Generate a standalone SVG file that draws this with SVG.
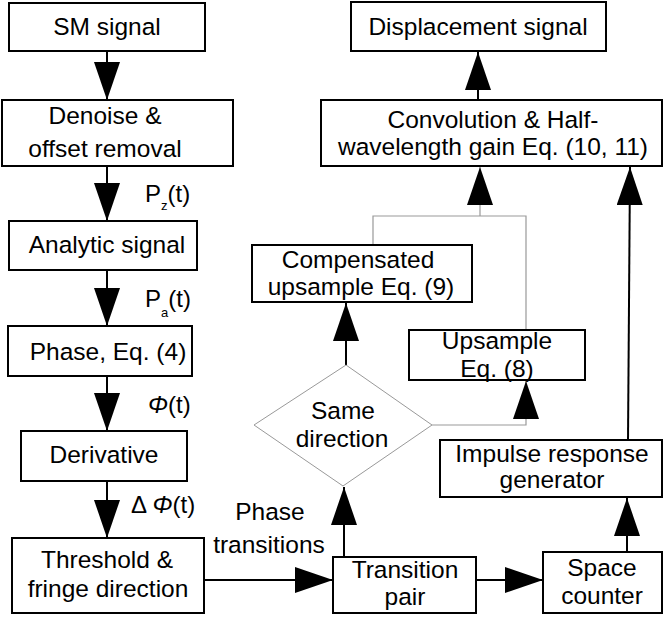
<svg xmlns="http://www.w3.org/2000/svg" width="663" height="620" viewBox="0 0 663 620">
<defs>
<style>
.box{fill:#fff;stroke:#000;stroke-width:2}
.dia{fill:#fff;stroke:#999;stroke-width:1}
.t{font-family:"Liberation Sans",Arial,sans-serif;font-size:24.5px;fill:#000;text-anchor:middle}
.lb{font-family:"Liberation Sans",Arial,sans-serif;font-size:24px;fill:#000}
.sub{font-size:13px}
.c{fill:none;stroke:#000;stroke-width:2}
.g{fill:none;stroke:#999;stroke-width:1.2}
</style>
<marker id="ah" viewBox="0 0 38 26" markerUnits="userSpaceOnUse" markerWidth="38" markerHeight="26" refX="38" refY="13" orient="auto">
<path d="M0,0 L38,13 L0,26 Z" fill="#000"/>
</marker>
</defs>
<rect width="663" height="620" fill="#fff"/>
<g id="connectors">
<line class="c" x1="107" y1="51" x2="107" y2="100" marker-end="url(#ah)"/>
<line class="c" x1="107" y1="166" x2="107" y2="221" marker-end="url(#ah)"/>
<line class="c" x1="107" y1="270" x2="107" y2="326" marker-end="url(#ah)"/>
<line class="c" x1="107" y1="376" x2="107" y2="431" marker-end="url(#ah)"/>
<line class="c" x1="107" y1="481" x2="107" y2="538" marker-end="url(#ah)"/>
<line class="c" x1="204" y1="580" x2="333" y2="580" marker-end="url(#ah)"/>
<line class="c" x1="476" y1="580" x2="543" y2="580" marker-end="url(#ah)"/>
<line class="c" x1="344" y1="557" x2="344" y2="487" marker-end="url(#ah)"/>
<line class="c" x1="346" y1="365" x2="346" y2="303" marker-end="url(#ah)"/>
<polyline class="g" points="432,425 526,425 526,381" marker-end="url(#ah)"/>
<polyline class="g" points="373,245 373,216 526,216 526,330"/>
<line class="g" x1="480" y1="216" x2="480" y2="167" marker-end="url(#ah)"/>
<line class="c" x1="627" y1="552" x2="627" y2="498" marker-end="url(#ah)"/>
<line class="c" x1="628" y1="440" x2="630" y2="167" marker-end="url(#ah)"/>
<line class="c" x1="478" y1="100" x2="478" y2="52" marker-end="url(#ah)"/>
</g>
<g id="labels">
<text class="lb" x="145" y="202">P<tspan class="sub" dy="8">z</tspan><tspan dy="-8">(t)</tspan></text>
<text class="lb" x="145" y="307">P<tspan class="sub" dy="10">a</tspan><tspan dy="-10">(t)</tspan></text>
<text class="lb" x="148" y="413"><tspan font-style="italic">Φ</tspan>(t)</text>
<text class="lb" x="131" y="513">Δ <tspan font-style="italic">Φ</tspan>(t)</text>
<text class="t" x="270" y="520">Phase</text>
<text class="t" x="269" y="553">transitions</text>
</g>
<g id="sm"><rect class="box" x="9" y="3" width="196" height="48"/><text class="t" x="107" y="35">SM signal</text></g>
<g id="denoise"><rect class="box" x="2" y="100" width="231" height="66"/><text class="t" x="105" y="124">Denoise &amp;</text><text class="t" x="105" y="157">offset removal</text></g>
<g id="analytic"><rect class="box" x="9" y="221" width="188" height="49"/><text class="t" x="107" y="253">Analytic signal</text></g>
<g id="phase"><rect class="box" x="8" y="326" width="184" height="50"/><text class="t" x="108" y="360">Phase, Eq. (4)</text></g>
<g id="derivative"><rect class="box" x="21" y="431" width="166" height="50"/><text class="t" x="104" y="463">Derivative</text></g>
<g id="threshold"><rect class="box" x="12" y="538" width="192" height="75"/><text class="t" x="107" y="568">Threshold &amp;</text><text class="t" x="108" y="597">fringe direction</text></g>
<g id="transition"><rect class="box" x="333" y="557" width="143" height="56"/><text class="t" x="405" y="578">Transition</text><text class="t" x="405" y="605">pair</text></g>
<g id="space"><rect class="box" x="543" y="552" width="119" height="61"/><text class="t" x="602" y="576">Space</text><text class="t" x="602" y="604">counter</text></g>
<g id="impulse"><rect class="box" x="440" y="440" width="222" height="57"/><text class="t" x="552" y="462">Impulse response</text><text class="t" x="552" y="488">generator</text></g>
<g id="same"><polygon class="dia" points="346,365 432,425 343,486 254,425"/><text class="t" x="343" y="419">Same</text><text class="t" x="342" y="447">direction</text></g>
<g id="upsample"><rect class="box" x="409" y="330" width="176" height="50"/><text class="t" x="497" y="349">Upsample</text><text class="t" x="497" y="377">Eq. (8)</text></g>
<g id="compensated"><rect class="box" x="252" y="245" width="220" height="57"/><text class="t" x="358" y="268">Compensated</text><text class="t" x="361" y="295">upsample Eq. (9)</text></g>
<g id="convolution"><rect class="box" x="321" y="100" width="341" height="66"/><text class="t" x="493" y="128">Convolution &amp; Half-</text><text class="t" x="493" y="155">wavelength gain Eq. (10, 11)</text></g>
<g id="displacement"><rect class="box" x="351" y="2" width="255" height="49"/><text class="t" x="478" y="35">Displacement signal</text></g>
</svg>
